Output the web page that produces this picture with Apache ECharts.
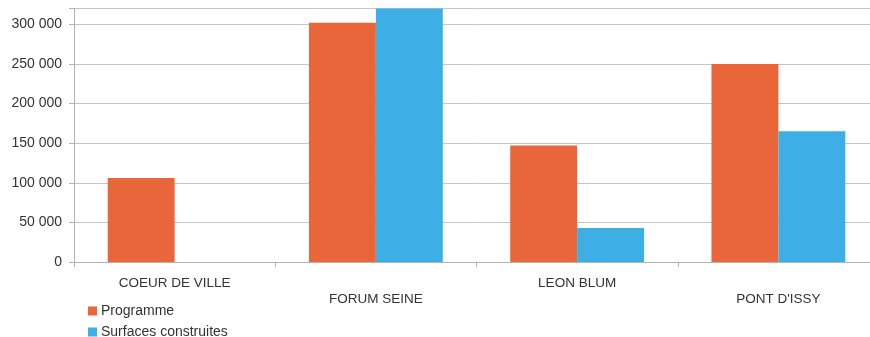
<!DOCTYPE html>
<html>
<head>
<meta charset="utf-8">
<script src="https://cdn.jsdelivr.net/npm/echarts@6/dist/echarts.min.js"></script>
<style>
  html, body { margin: 0; padding: 0; background: #ffffff; }
  #chart { width: 870px; height: 337px; }
</style>
</head>
<body>
<div id="chart"></div>
<script>
// Surfaces per site: planned programme vs. built floor area
const categories = ['COEUR DE VILLE', 'FORUM SEINE', 'LEON BLUM', "PONT D'ISSY"];
const programme = [106000, 302000, 147000, 250000];
const surfacesConstruites = [0, 320000, 43000, 165000];
const seriesNames = ['Programme', 'Surfaces construites'];
const yTicks = [0, 50000, 100000, 150000, 200000, 250000, 300000];

const FONT = 'Liberation Sans, Arial, sans-serif';
const GRID_COLOR = '#c6c6c6';

function formatThousands(v) {
  return String(v).replace(/\B(?=(\d{3})+(?!\d))/g, ' ');
}

// one legend block per series, stacked under the first category
function legendItem(name, top) {
  return {
    left: 83,
    top: top,
    itemWidth: 9,
    itemHeight: 9,
    icon: 'rect',
    data: [name],
    textStyle: { fontFamily: FONT, fontSize: 14, color: '#333333', padding: [0, 0, 0, -1] }
  };
}

const chart = echarts.init(document.getElementById('chart'), null, { renderer: 'canvas' });

chart.setOption({
  animation: false,
  backgroundColor: '#ffffff',
  // plot area runs past the right edge of the canvas
  grid: {
    left: 74, width: 805, top: 8.5, bottom: 75,
    containLabel: false,
    outerBoundsMode: 'none'
  },
  legend: [legendItem(seriesNames[0], 299), legendItem(seriesNames[1], 320)],
  xAxis: {
    type: 'category',
    data: categories,
    axisLine: { lineStyle: { color: '#b3b3b3', width: 1 } },
    axisTick: { show: true, alignWithLabel: false, length: 5, lineStyle: { color: '#b3b3b3' } },
    axisLabel: {
      interval: 0,
      margin: 13,
      fontFamily: FONT,
      fontSize: 13.5,
      color: '#333333',
      lineHeight: 16,
      formatter: function (v, i) { return i % 2 === 1 ? '\n' + v : v; }
    },
    splitLine: { show: false }
  },
  yAxis: {
    type: 'value',
    min: 0,
    max: 320000,
    interval: 50000,
    axisLine: { show: true, lineStyle: { color: '#b3b3b3', width: 1 } },
    axisTick: { show: true, length: 5, lineStyle: { color: '#b3b3b3' } },
    axisLabel: {
      margin: 12,
      fontFamily: FONT,
      fontSize: 14,
      color: '#333333',
      formatter: function (v) { return yTicks.indexOf(v) >= 0 ? formatThousands(v) : ''; }
    },
    splitLine: { show: true, lineStyle: { color: GRID_COLOR, width: 1 } }
  },
  series: [
    {
      name: seriesNames[0],
      type: 'bar',
      data: programme,
      barGap: '0%',
      barCategoryGap: '33.5%',
      itemStyle: { color: '#e9663b' }
    },
    {
      name: seriesNames[1],
      type: 'bar',
      data: surfacesConstruites,
      barGap: '0%',
      barCategoryGap: '33.5%',
      itemStyle: { color: '#3eafe4' }
    }
  ]
});
</script>
</body>
</html>
